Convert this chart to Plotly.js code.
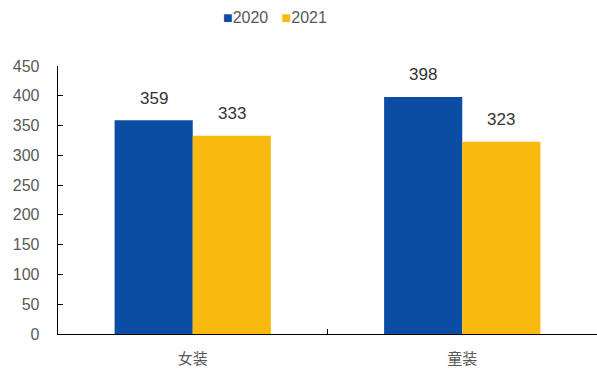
<!DOCTYPE html>
<html><head><meta charset="utf-8">
<script src="https://cdn.plot.ly/plotly-3.0.1.min.js"></script>
<style>html,body{margin:0;padding:0;background:#fff}#c{width:597px;height:371px}</style>
</head><body><div id="c"></div>
<script>
const categories = ["女装", "童装"];
const seriesNames = ["2020", "2021"];
const values2020 = [359, 398];
const values2021 = [333, 323];
const yTicks = [0, 50, 100, 150, 200, 250, 300, 350, 400, 450];

const colors = ["#0B4DA2", "#F9B90F"];
const series = [values2020, values2021];
const data = series.map((v, i) => ({
  type: "bar", name: seriesNames[i], x: categories, y: v,
  marker: {color: colors[i]}, showlegend: false
}));
const annotations = [];
series.forEach((v, i) => {
  v.forEach((val, j) => {
    annotations.push({
      x: categories[j], y: val, xref: "x", yref: "y",
      text: String(val), showarrow: false,
      xshift: i === 0 ? -39 : 39, yshift: 22,
      font: {family: "Liberation Sans, Arial, sans-serif", size: 17, color: "#333333"}
    });
  });
});
annotations.push({
  xref: "paper", yref: "paper", x: (275 - 58) / 539, y: 1 + (66 - 17) / 268,
  xanchor: "center", yanchor: "middle", showarrow: false,
  text: seriesNames.map((n, i) => '<span style="color:' + colors[i] + '">■</span>' + n).join("&nbsp;&nbsp;&nbsp;"),
  font: {family: "Liberation Sans, Arial, sans-serif", size: 16, color: "#595959"}
});
const layout = {
  width: 597, height: 371,
  margin: {l: 58, r: 0, t: 66, b: 37},
  barmode: "group", bargap: 0.42, bargroupgap: 0,
  paper_bgcolor: "#fff", plot_bgcolor: "#fff",
  showlegend: false,
  annotations: annotations,
  xaxis: {
    type: "category", range: [-0.5, 1.5], showline: true, linecolor: "#000", linewidth: 1.3,
    ticks: "inside", tickson: "boundaries", ticklen: 5, tickcolor: "#000",
    showgrid: false, zeroline: false,
    tickfont: {family: "Noto Sans CJK SC, sans-serif", size: 15, color: "#595959"},
    ticklabelstandoff: 11
  },
  yaxis: {
    range: [0, 450], tickvals: yTicks, ticktext: yTicks.map(String),
    showline: true, linecolor: "#000", linewidth: 1.3,
    ticks: "inside", ticklen: 5, tickcolor: "#000",
    showgrid: false, zeroline: false,
    tickfont: {family: "Liberation Sans, Arial, sans-serif", size: 16, color: "#595959"},
    ticklabelstandoff: 14
  }
};
Plotly.newPlot("c", data, layout, {displayModeBar: false, staticPlot: true});
</script></body></html>
